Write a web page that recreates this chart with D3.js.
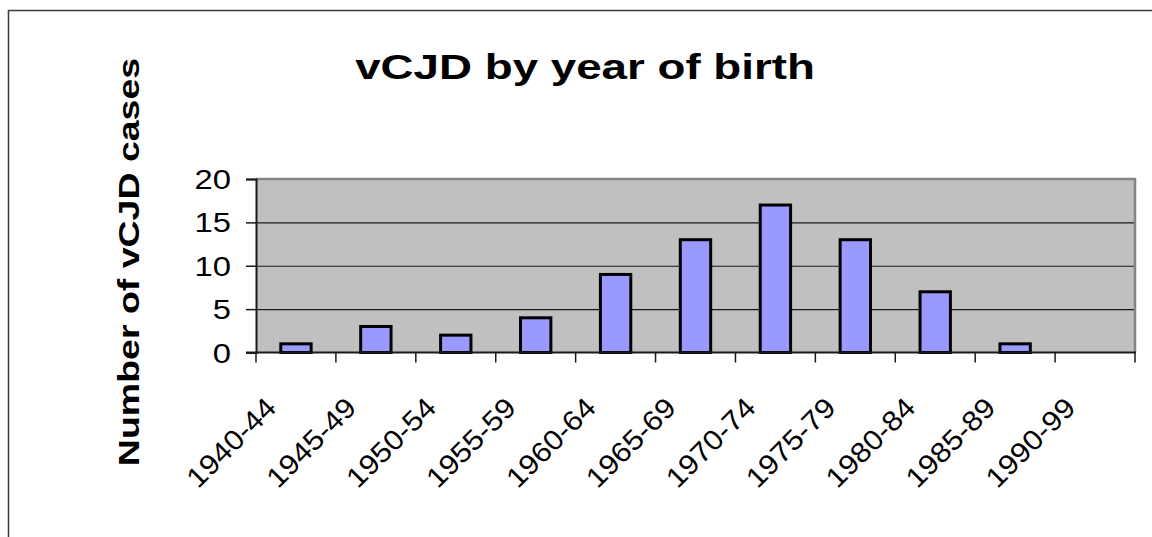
<!DOCTYPE html>
<html>
<head>
<meta charset="utf-8">
<script src="https://cdn.jsdelivr.net/npm/d3@7"></script>
<style>
  html, body { margin: 0; padding: 0; background: #ffffff; }
  svg { display: block; }
</style>
</head>
<body>
<svg id="chart" width="1152" height="537"></svg>
<script>
const categories = [
    "1940-44", "1945-49", "1950-54", "1955-59", "1960-64", "1965-69",
    "1970-74", "1975-79", "1980-84", "1985-89", "1990-99",
];
const cases = [1, 3, 2, 4, 9, 13, 17, 13, 7, 1, 0];
const yTicks = [0, 5, 10, 15, 20];

const FONT = "'Liberation Sans', Arial, sans-serif";

const svg = d3.select("#chart");
const width = 1152;
const height = 537;

// plot area in page coordinates
const plot = { left: 256, top: 179, right: 1135, bottom: 352.5 };

// Outer chart frame (only top and left edges fall inside the picture)
svg.append("path")
    .attr("d", `M8.5,${height + 2} L8.5,10.5 L${width + 2},10.5`)
    .attr("fill", "none")
    .attr("stroke", "#3a3a3a")
    .attr("stroke-width", 1.5);

const xScale = d3.scaleBand()
    .domain(categories)
    .range([plot.left, plot.right])
    .paddingInner(0.62)
    .paddingOuter(0.31);

const step = xScale.step();
const edge = (i) => plot.left + i * step;

const yScale = d3.scaleLinear()
    .domain([0, 20])
    .range([plot.bottom, plot.top]);

// Plot background
svg.append("rect")
    .attr("x", plot.left)
    .attr("y", plot.top)
    .attr("width", plot.right - plot.left)
    .attr("height", plot.bottom - plot.top)
    .attr("fill", "#c0c0c0");

// Horizontal grid lines
const gridG = svg.append("g")
    .attr("transform", `translate(${plot.left},0)`)
    .call(
        d3.axisLeft(yScale)
            .tickValues(yTicks.filter((t) => t > 0 && t < 20))
            .tickSize(-(plot.right - plot.left))
            .tickFormat("")
    );
gridG.select(".domain").remove();
gridG.selectAll("line")
    .attr("stroke", "#1a1a1a")
    .attr("stroke-width", 1.2);

// Plot border (top + right, grey)
svg.append("path")
    .attr("d", `M${plot.left},${plot.top} L${plot.right},${plot.top} L${plot.right},${plot.bottom}`)
    .attr("fill", "none")
    .attr("stroke", "#858585")
    .attr("stroke-width", 2.5);

// Bars
svg.selectAll(".bar")
    .data(categories.map((c, i) => ({ c, v: cases[i] })))
    .join("rect")
    .attr("class", "bar")
    .attr("x", (d) => xScale(d.c))
    .attr("y", (d) => yScale(d.v))
    .attr("width", xScale.bandwidth())
    .attr("height", (d) => yScale(0) - yScale(d.v))
    .attr("fill", (d) => (d.v > 0 ? "#9999ff" : "none"))
    .attr("stroke", (d) => (d.v > 0 ? "#000000" : "none"))
    .attr("stroke-width", 3);

// Y axis
const yAxisG = svg.append("g")
    .attr("transform", `translate(${plot.left},0)`)
    .call(
        d3.axisLeft(yScale)
            .tickValues(yTicks)
            .tickSize(10)
            .tickPadding(0)
            .tickFormat("")
    );
yAxisG.select(".domain").attr("stroke", "#1a1a1a").attr("stroke-width", 2);
yAxisG.selectAll(".tick line").attr("stroke", "#1a1a1a").attr("stroke-width", 1.5);

svg.append("g")
    .selectAll("text")
    .data(yTicks)
    .join("text")
    .attr("transform", (d) => `translate(231,${yScale(d)}) scale(1.17,1)`)
    .attr("text-anchor", "end")
    .attr("dy", "0.36em")
    .style("font-family", FONT)
    .style("font-size", "28px")
    .style("fill", "#000")
    .text((d) => d);

// X axis line with boundary ticks
svg.append("line")
    .attr("x1", plot.left - 10).attr("x2", plot.right + 1)
    .attr("y1", plot.bottom).attr("y2", plot.bottom)
    .attr("stroke", "#1a1a1a")
    .attr("stroke-width", 2);

svg.append("g")
    .selectAll("line")
    .data(d3.range(categories.length + 1))
    .join("line")
    .attr("x1", (i) => edge(i)).attr("x2", (i) => edge(i))
    .attr("y1", plot.bottom).attr("y2", plot.bottom + 10)
    .attr("stroke", "#1a1a1a")
    .attr("stroke-width", 1.5);

// Rotated category labels
svg.append("g")
    .selectAll("text")
    .data(categories)
    .join("text")
    .attr("transform", (d) => {
        const cx = xScale(d) + xScale.bandwidth() / 2;
        return `translate(${cx - 18},${plot.bottom + 57}) rotate(-45) scale(1.1,1)`;
    })
    .attr("text-anchor", "end")
    .style("font-family", FONT)
    .style("font-size", "28px")
    .style("fill", "#000")
    .text((d) => d);

// Title
svg.append("text")
    .attr("transform", "translate(585,79) scale(1.27,1)")
    .attr("text-anchor", "middle")
    .style("font-family", FONT)
    .style("font-size", "36px")
    .style("font-weight", "bold")
    .style("fill", "#000")
    .text("vCJD by year of birth");

// Y axis title
svg.append("text")
    .attr("transform", "translate(139,262) rotate(-90) scale(1.25,1)")
    .attr("text-anchor", "middle")
    .style("font-family", FONT)
    .style("font-size", "30px")
    .style("font-weight", "bold")
    .style("fill", "#000")
    .text("Number of vCJD cases");
</script>
</body>
</html>
